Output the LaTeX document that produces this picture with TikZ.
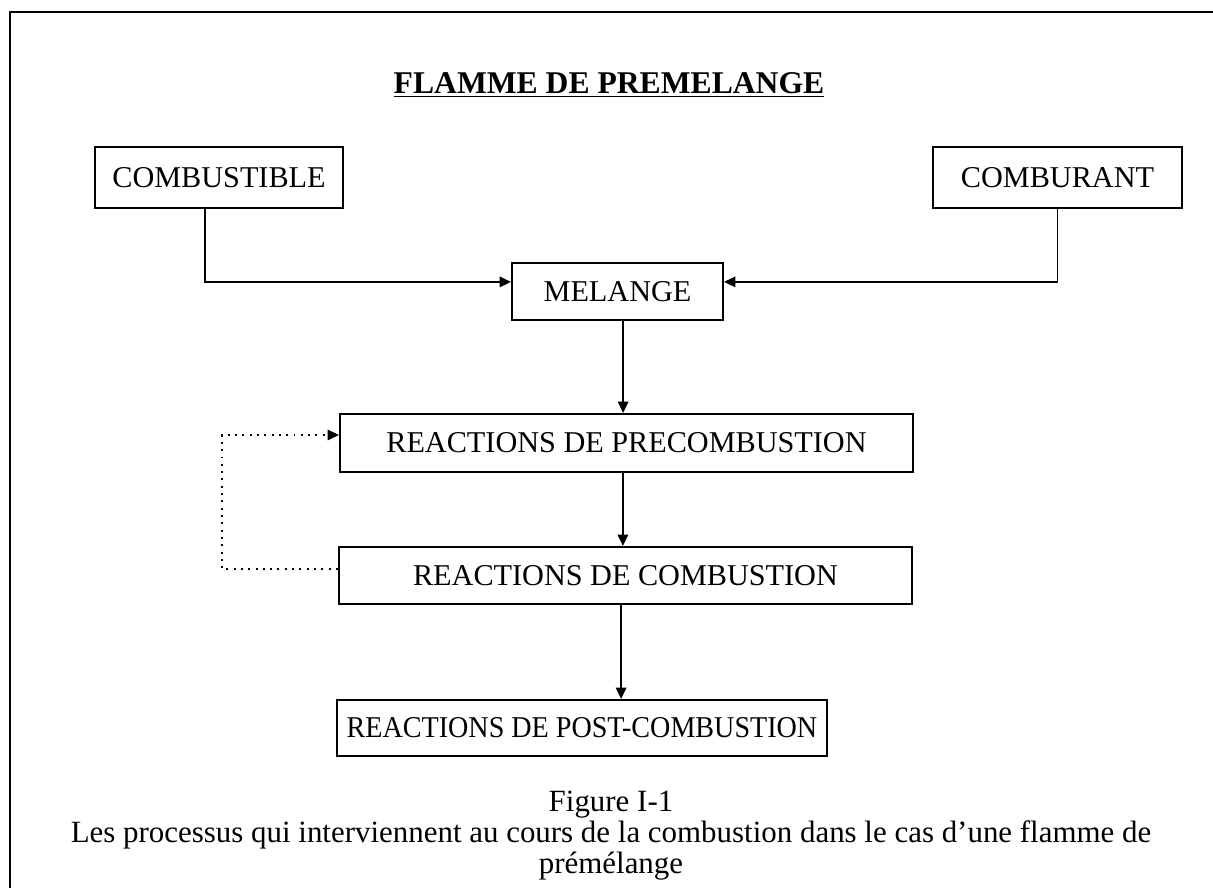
\documentclass[tikz,border=0pt]{standalone}
\usepackage{fontspec}
\setmainfont{Liberation Serif}
\usetikzlibrary{arrows.meta}
\tikzset{
  bx/.style={draw,line width=1.5pt,inner sep=0pt,font=\fontsize{21.5}{21.5}\selectfont},
  fl/.style={line width=1.2pt,-{Triangle[length=2.8mm,width=2.6mm]}},
  fb/.style={line width=1.1pt,dash pattern=on 1.4pt off 3.8pt,-{Triangle[length=2.8mm,width=2.6mm]}},
  frm/.style={line width=1.5pt},
  txt/.style={font=\fontsize{22}{22}\selectfont,align=center,inner sep=0pt}
}

\begin{document}
\begin{tikzpicture}
\useasboundingbox (0,0) rectangle (30.325,22.2);
\draw[frm] (30.325,21.9) -- (0.25,21.9) -- (0.25,0);
\node[txt,font=\fontsize{22.5}{22.5}\selectfont\bfseries] (ttl) at (15.225,20.075) {\underline{FLAMME DE PREMELANGE}};
\node[bx,minimum width=6.2cm,minimum height=1.525cm] (fuel) at (5.475,17.7625) {COMBUSTIBLE};
\node[bx,minimum width=6.225cm,minimum height=1.525cm] (oxid) at (26.4375,17.7625) {COMBURANT};
\node[bx,minimum width=5.275cm,minimum height=1.425cm] (mix) at (15.4375,14.9125) {MELANGE};
\node[bx,minimum width=14.325cm,minimum height=1.45cm] (pre) at (15.6625,11.125) {REACTIONS DE PRECOMBUSTION};
\node[bx,minimum width=14.325cm,minimum height=1.425cm] (comb) at (15.6375,7.8125) {REACTIONS DE COMBUSTION};
\node[bx,minimum width=12.25cm,minimum height=1.4cm,font=\fontsize{21.5}{21.5}\selectfont\addfontfeatures{FakeStretch=0.93}] (post) at (14.55,4.0) {REACTIONS DE POST-COMBUSTION};
\draw[fl] ([xshift=-0.35cm]fuel.south) |- ([yshift=0.24cm]mix.west);
\draw[fl] (oxid.south) |- ([yshift=0.24cm]mix.east);
\draw[fl] ([xshift=0.14cm]mix.south) -- ([xshift=0.14cm]mix.south |- pre.north);
\draw[fl] ([xshift=-0.09cm]pre.south) -- ([xshift=-0.09cm]pre.south |- comb.north);
\draw[fl] ([xshift=-0.11cm]comb.south) -- ([xshift=-0.11cm]comb.south |- post.north);
\draw[fb] ([yshift=0.16cm]comb.west) -- ++(-2.9,0) |- ([yshift=0.2cm]pre.west);
\node[txt] (cap) at (15.275,1.3) {Figure I-1\\Les processus qui interviennent au cours de la combustion dans le cas d’une flamme de\\prémélange};
\end{tikzpicture}
\end{document}
